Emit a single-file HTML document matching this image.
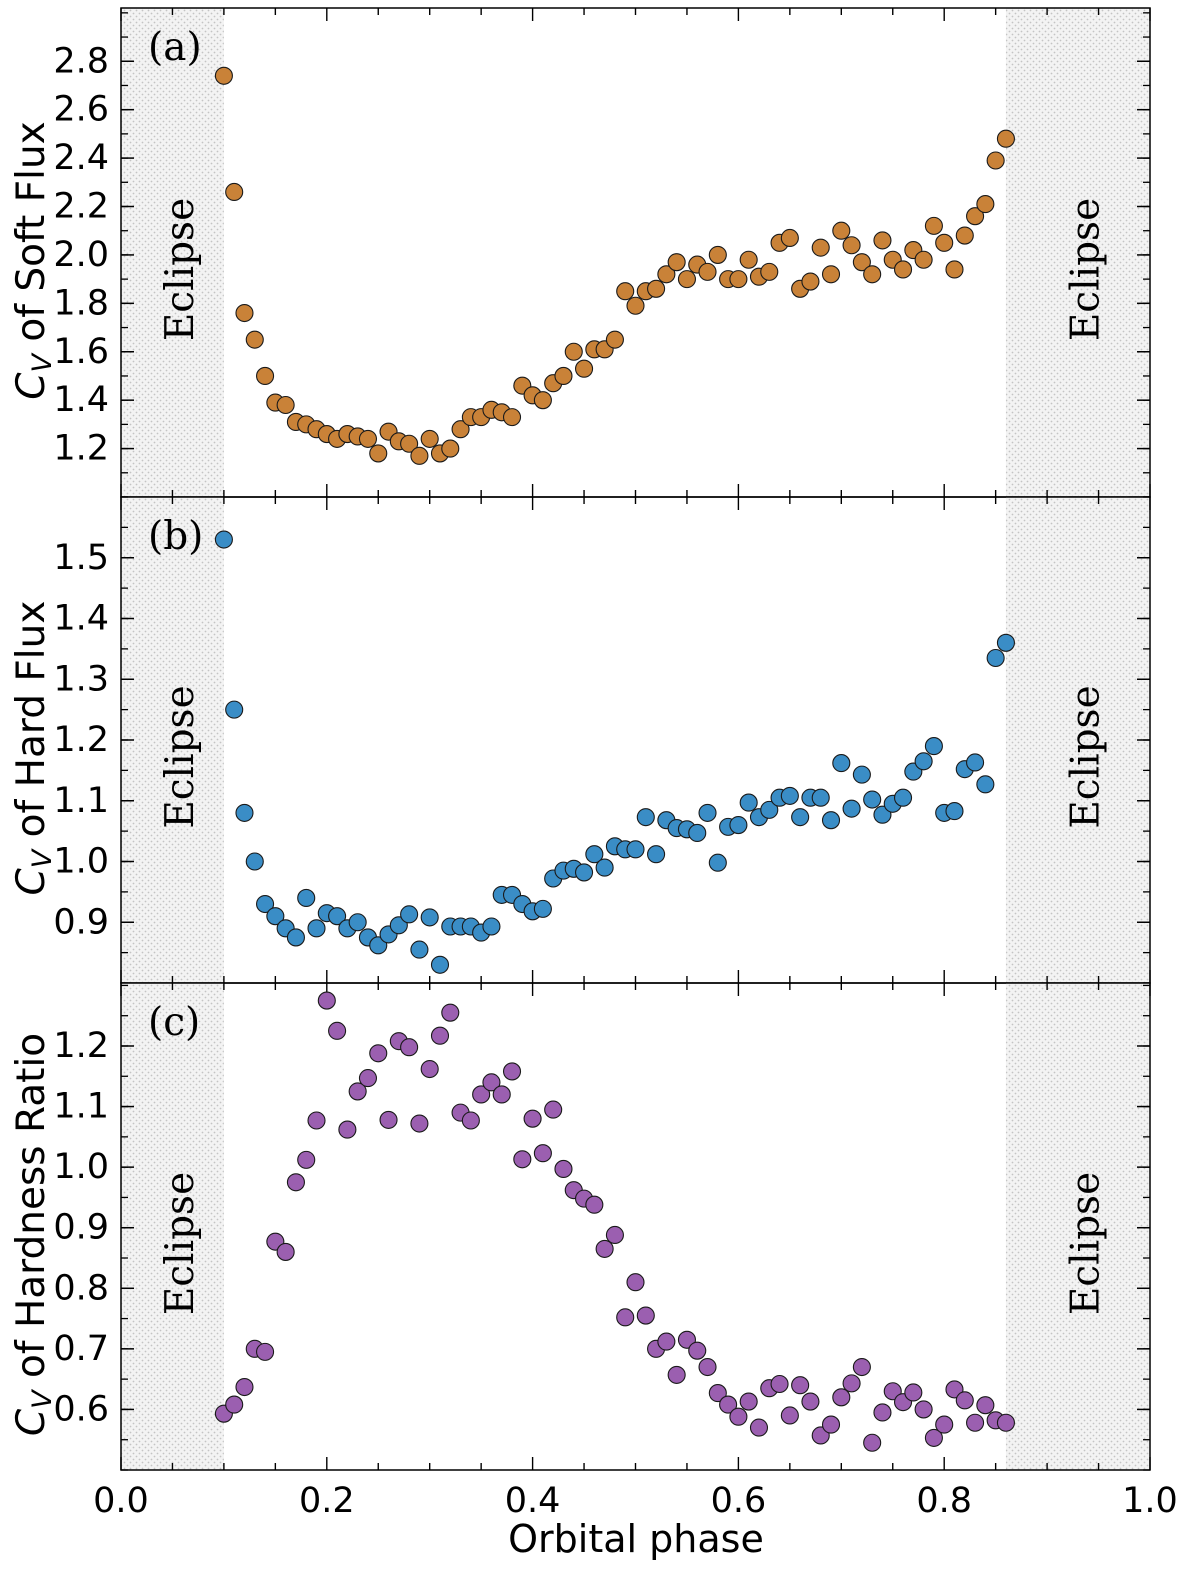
<!DOCTYPE html>
<html><head><meta charset="utf-8"><style>
html,body{margin:0;padding:0;background:#fff;overflow:hidden;width:1200px;height:1579px}
svg{display:block;font-family:"DejaVu Sans","Liberation Sans",sans-serif}
</style></head><body>
<svg id="chart" width="1200" height="1579" viewBox="0 0 1200 1579" xmlns="http://www.w3.org/2000/svg">
<defs>
<pattern id="dots" width="6" height="6" patternUnits="userSpaceOnUse">
<rect width="6" height="6" fill="#f3f3f3"/>
<circle cx="1.5" cy="1.5" r="0.9" fill="#c4c4c4"/>
<circle cx="4.5" cy="4.5" r="0.9" fill="#c4c4c4"/>
</pattern>
</defs>
</svg>
<script>
const phase=[];for(let i=0;i<=76;i++)phase.push(+(0.10+i*0.01).toFixed(2));
const softCv=[2.74,2.26,1.76,1.65,1.50,1.39,1.38,1.31,1.30,1.28,1.26,1.24,1.26,1.25,1.24,1.18,1.27,1.23,1.22,1.17,1.24,1.18,1.20,1.28,1.33,1.33,1.36,1.35,1.33,1.46,1.42,1.40,1.47,1.50,1.60,1.53,1.61,1.61,1.65,1.85,1.79,1.85,1.86,1.92,1.97,1.90,1.96,1.93,2.00,1.90,1.90,1.98,1.91,1.93,2.05,2.07,1.86,1.89,2.03,1.92,2.10,2.04,1.97,1.92,2.06,1.98,1.94,2.02,1.98,2.12,2.05,1.94,2.08,2.16,2.21,2.39,2.48];
const hardCv=[1.53,1.25,1.08,1.00,0.93,0.91,0.89,0.875,0.94,0.89,0.915,0.91,0.89,0.90,0.875,0.862,0.88,0.895,0.913,0.855,0.908,0.83,0.893,0.893,0.893,0.883,0.893,0.945,0.945,0.93,0.918,0.922,0.972,0.985,0.988,0.982,1.012,0.99,1.025,1.02,1.02,1.073,1.012,1.068,1.055,1.053,1.047,1.08,0.998,1.057,1.06,1.097,1.073,1.085,1.105,1.108,1.073,1.105,1.105,1.068,1.162,1.087,1.143,1.102,1.077,1.095,1.105,1.148,1.165,1.19,1.08,1.083,1.152,1.163,1.127,1.335,1.36];
const hrCv=[0.593,0.608,0.637,0.700,0.695,0.877,0.860,0.975,1.012,1.077,1.275,1.225,1.062,1.125,1.147,1.188,1.078,1.208,1.198,1.072,1.162,1.217,1.255,1.090,1.077,1.120,1.140,1.120,1.158,1.013,1.080,1.023,1.095,0.997,0.962,0.948,0.938,0.865,0.888,0.752,0.810,0.755,0.700,0.712,0.657,0.715,0.697,0.670,0.627,0.608,0.588,0.613,0.570,0.635,0.642,0.590,0.640,0.613,0.557,0.575,0.620,0.643,0.670,0.545,0.595,0.630,0.612,0.628,0.600,0.553,0.575,0.633,0.615,0.578,0.607,0.582,0.578];
const xTicks=[0.0,0.2,0.4,0.6,0.8,1.0];
const softTicks=[1.2,1.4,1.6,1.8,2.0,2.2,2.4,2.6,2.8];
const hardTicks=[0.9,1.0,1.1,1.2,1.3,1.4,1.5];
const hrTicks=[0.6,0.7,0.8,0.9,1.0,1.1,1.2];
const eclipseRanges=[[0,0.1],[0.86,1.0]];

const svg=document.getElementById('chart');
const NS='http://www.w3.org/2000/svg';
function mk(tag,attrs,parent){const e=document.createElementNS(NS,tag);for(const k in attrs)e.setAttribute(k,attrs[k]);(parent||svg).appendChild(e);return e;}
const L=121,R=1150;
const xs=v=>L+(R-L)*v;

const panels=[
 {name:'soft',top:8,bot:497,ymin:1.0,ymax:3.02,data:softCv,ticks:softTicks,minor:0.1,color:'#c98238',label:'(a)',yl:'of Soft Flux'},
 {name:'hard',top:497,bot:983,ymin:0.8,ymax:1.6,data:hardCv,ticks:hardTicks,minor:0.05,color:'#3a8dc6',label:'(b)',yl:'of Hard Flux'},
 {name:'hr',top:983,bot:1470,ymin:0.5,ymax:1.304,data:hrCv,ticks:hrTicks,minor:0.05,color:'#9b5fb0',label:'(c)',yl:'of Hardness Ratio'}
];
panels.forEach(p=>{
 const g=mk('g',{});
 
 
 const ys=v=>p.bot-(p.bot-p.top)*(v-p.ymin)/(p.ymax-p.ymin);
 eclipseRanges.forEach((r,i)=>{
  const rc=mk('rect',{x:xs(r[0]),y:p.top,width:xs(r[1])-xs(r[0]),height:p.bot-p.top,fill:'url(#dots)'},g);
  
  
  const cx=(xs(r[0])+xs(r[1]))/2+(i===0?8:8), cy=(p.top+p.bot)/2+17;
  const t=mk('text',{x:cx,y:cy,'font-family':'"DejaVu Serif","Liberation Serif",serif','font-size':39,'text-anchor':'middle','dominant-baseline':'central',transform:`rotate(-90 ${cx} ${cy})`},g);
  t.textContent='Eclipse';
  
  
 });
 for(let v=p.ymin;v<=p.ymax+1e-9;v+=p.minor){const y=ys(v);mk('line',{x1:L,x2:L+7,y1:y,y2:y,stroke:'#000','stroke-width':1.3},g);mk('line',{x1:R,x2:R-7,y1:y,y2:y,stroke:'#000','stroke-width':1.3},g);}
 p.ticks.forEach(v=>{const y=ys(v);mk('line',{x1:L,x2:L+13,y1:y,y2:y,stroke:'#000','stroke-width':1.5},g);mk('line',{x1:R,x2:R-13,y1:y,y2:y,stroke:'#000','stroke-width':1.5},g);
  const t=mk('text',{x:L-12,y:y,'font-size':35,'text-anchor':'end','dominant-baseline':'central'},g);t.textContent=v.toFixed(1);
  
  });
 for(let v=0;v<=1.0001;v+=0.05){const x=xs(v);const maj=Math.abs(v*5-Math.round(v*5))<1e-6;const len=maj?13:7;
  mk('line',{x1:x,x2:x,y1:p.bot,y2:p.bot-len,stroke:'#000','stroke-width':1.4},g);
  mk('line',{x1:x,x2:x,y1:p.top,y2:p.top+len,stroke:'#000','stroke-width':1.4},g);}
 p.data.forEach((v,i)=>{const c=mk('circle',{cx:xs(phase[i]),cy:ys(v),r:8.5,fill:p.color,stroke:'#1a1a1a','stroke-width':1.1},g);
  
  });
 mk('rect',{x:L,y:p.top,width:R-L,height:p.bot-p.top,fill:'none',stroke:'#000','stroke-width':1.5},g);
 const pl=mk('text',{x:148,y:p.top+52,'font-family':'"DejaVu Serif","Liberation Serif",serif','font-size':39},g);pl.textContent=p.label;
 
 
 const cy=(p.top+p.bot)/2+8;
 const yl=mk('text',{x:44,y:cy,'font-size':39,'text-anchor':'middle',transform:`rotate(-90 44 ${cy})`},g);
 
 
 const s1=mk('tspan',{'font-style':'italic'},yl);s1.textContent='C';
 const s2=mk('tspan',{'font-style':'italic','font-size':27,dy:7},yl);s2.textContent='V';
 const s3=mk('tspan',{dy:-7},yl);s3.textContent=' '+p.yl;
});
xTicks.forEach(v=>{const t=mk('text',{x:xs(v),y:1512,'font-size':35,'text-anchor':'middle'});t.textContent=v.toFixed(1);
 
 });
const xt=mk('text',{x:636,y:1552,'font-size':38,'text-anchor':'middle'});xt.textContent='Orbital phase';


</script>
</body></html>
